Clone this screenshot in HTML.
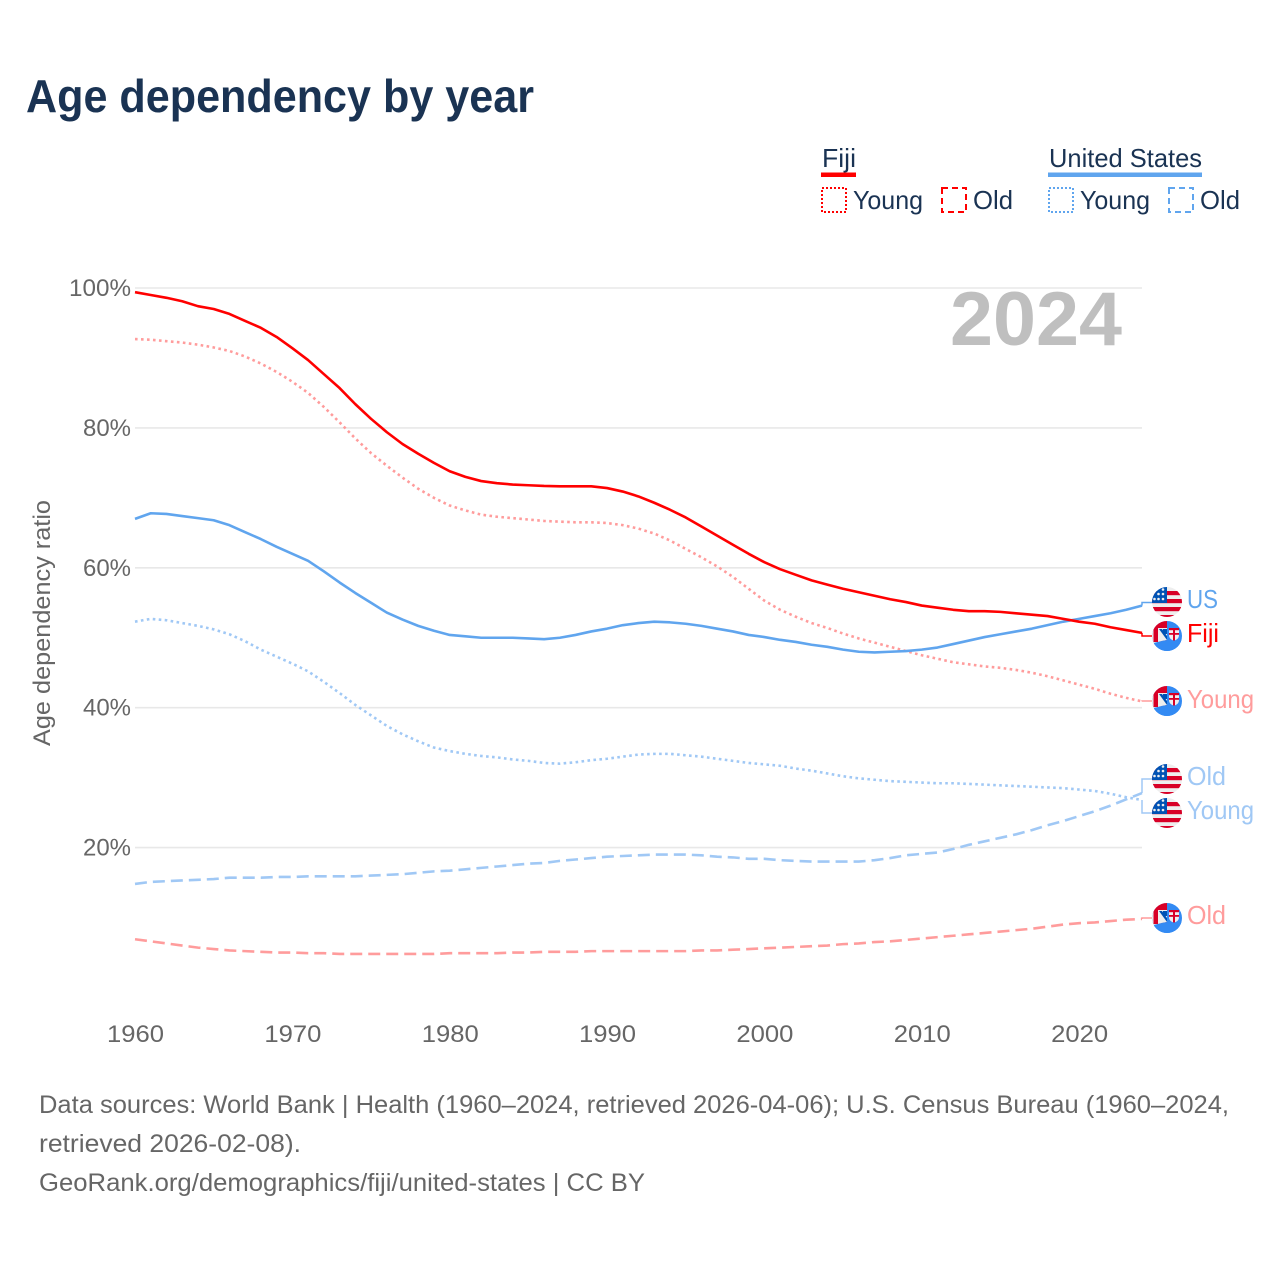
<!DOCTYPE html>
<html lang="en">
<head>
<meta charset="utf-8">
<title>Age dependency by year</title>
<style>
html,body{margin:0;padding:0;background:#fff;width:1280px;height:1280px;overflow:hidden}
svg{display:block;font-family:"Liberation Sans",sans-serif}
.tick{font-size:24px;fill:#666}
.legend{font-size:26px;fill:#1a3353}
.foot{font-size:25px;fill:#666}
.end{font-size:26px}
</style>
</head>
<body>
<svg id="chart" width="1280" height="1280" viewBox="0 0 1280 1280" xmlns="http://www.w3.org/2000/svg">
<defs>
<clipPath id="flag-clip"><circle cx="15" cy="15" r="15"/></clipPath>
<g id="flag-us" clip-path="url(#flag-clip)">
<rect width="30" height="30" fill="#eeeeee"/>
<rect y="4" width="30" height="4.2" fill="#d80027"/>
<rect y="12" width="30" height="4.2" fill="#d80027"/>
<rect y="20" width="30" height="4.2" fill="#d80027"/>
<rect y="28" width="30" height="2" fill="#d80027"/>
<rect width="15" height="16" fill="#0052b4"/>
<g fill="#eee">
<circle cx="11" cy="2.5" r="1.3"/><circle cx="6.5" cy="7" r="1.3"/><circle cx="11" cy="7" r="1.3"/>
<circle cx="2.5" cy="12" r="1.3"/><circle cx="6.5" cy="12" r="1.3"/><circle cx="11" cy="12" r="1.3"/>
</g>
</g>
<g id="flag-fj" clip-path="url(#flag-clip)">
<rect width="30" height="30" fill="#338af3"/>
<path d="M0 0 H15 V19 L1.5 22 H0Z" fill="#eeeeee"/>
<rect x="1.5" y="0" width="13.5" height="21" fill="#d80027"/>
<path d="M6 7 H15 V19 Q10 20 6 21Z" fill="#eeeeee"/>
<path d="M7 8 L15 19 V15 L10 8Z" fill="#0052b4"/>
<rect x="11" y="8" width="4" height="5" fill="#0052b4"/>
<path d="M0 23 Q8 20 15 19 H30 V30 H0Z" fill="#338af3"/>
<path d="M17 7 H27 V14 Q27 18.5 22 19.5 Q17 18.5 17 14Z" fill="#eeeeee"/>
<rect x="21" y="7" width="2" height="12.5" fill="#d80027"/>
<rect x="17" y="12" width="10" height="1.8" fill="#d80027"/>
<rect x="17" y="7" width="10" height="2.2" fill="#d80027"/>
</g>
</defs>

<text x="26" y="112" font-size="46" font-weight="700" fill="#1a3353" textLength="508" lengthAdjust="spacingAndGlyphs">Age dependency by year</text>

<g>
<text class="legend" x="822" y="167" textLength="34" lengthAdjust="spacingAndGlyphs">Fiji</text>
<rect x="821" y="172.5" width="35" height="4.5" fill="#ff0000"/>
<rect x="822" y="188" width="24" height="24" fill="none" stroke="#ff0000" stroke-width="2" stroke-dasharray="2 2"/>
<text class="legend" x="853" y="209" textLength="70" lengthAdjust="spacingAndGlyphs">Young</text>
<rect x="942" y="188" width="24" height="24" fill="none" stroke="#ff0000" stroke-width="2" stroke-dasharray="6 4"/>
<text class="legend" x="973" y="209" textLength="40" lengthAdjust="spacingAndGlyphs">Old</text>
<text class="legend" x="1049" y="167" textLength="153" lengthAdjust="spacingAndGlyphs">United States</text>
<rect x="1048" y="172.5" width="154" height="4.5" fill="#60a5ee"/>
<rect x="1049" y="188" width="24" height="24" fill="none" stroke="#60a5ee" stroke-width="2" stroke-dasharray="2 2"/>
<text class="legend" x="1080" y="209" textLength="70" lengthAdjust="spacingAndGlyphs">Young</text>
<rect x="1169" y="188" width="24" height="24" fill="none" stroke="#60a5ee" stroke-width="2" stroke-dasharray="6 4"/>
<text class="legend" x="1200" y="209" textLength="40" lengthAdjust="spacingAndGlyphs">Old</text>
</g>

<text transform="translate(50,746) rotate(-90)" font-size="24" fill="#666" textLength="246" lengthAdjust="spacingAndGlyphs">Age dependency ratio</text>

<g id="grid"></g>
<g id="yticks"></g>
<g id="xticks"></g>

<text x="950" y="345" font-size="76" font-weight="700" fill="#bfbfbf" textLength="172" lengthAdjust="spacingAndGlyphs">2024</text>

<g id="series"></g>

<g>
<use href="#flag-us" x="1152" y="587"/>
<text class="end" x="1187" y="608" fill="#60a5ee" textLength="31" lengthAdjust="spacingAndGlyphs">US</text>
<use href="#flag-fj" x="1152" y="621"/>
<text class="end" x="1187" y="642" fill="#ff0000" textLength="32" lengthAdjust="spacingAndGlyphs">Fiji</text>
<use href="#flag-fj" x="1152" y="686"/>
<text class="end" x="1187" y="708" fill="#ff9c9c" textLength="67" lengthAdjust="spacingAndGlyphs">Young</text>
<use href="#flag-us" x="1152" y="764"/>
<text class="end" x="1187" y="785" fill="#a0c8f5" textLength="39" lengthAdjust="spacingAndGlyphs">Old</text>
<use href="#flag-us" x="1152" y="798"/>
<text class="end" x="1187" y="819" fill="#a0c8f5" textLength="67" lengthAdjust="spacingAndGlyphs">Young</text>
<use href="#flag-fj" x="1152" y="903"/>
<text class="end" x="1187" y="924" fill="#ff9c9c" textLength="39" lengthAdjust="spacingAndGlyphs">Old</text>
</g>

<g>
<text class="foot" x="39" y="1113" textLength="1190" lengthAdjust="spacingAndGlyphs">Data sources: World Bank | Health (1960–2024, retrieved 2026-04-06); U.S. Census Bureau (1960–2024,</text>
<text class="foot" x="39" y="1152" textLength="262" lengthAdjust="spacingAndGlyphs">retrieved 2026-02-08).</text>
<text class="foot" x="39" y="1191" textLength="606" lengthAdjust="spacingAndGlyphs">GeoRank.org/demographics/fiji/united-states | CC BY</text>
</g>
</svg>

<script>
const firstYear = 1960;
const fijiTotal = [99.4,99.0,98.6,98.1,97.4,97.0,96.3,95.3,94.3,93.0,91.4,89.7,87.7,85.7,83.4,81.3,79.4,77.7,76.3,75.0,73.8,73.0,72.4,72.1,71.9,71.8,71.7,71.65,71.65,71.65,71.4,70.9,70.2,69.3,68.3,67.2,65.9,64.6,63.3,62.0,60.8,59.8,59.0,58.2,57.6,57.0,56.5,56.0,55.5,55.1,54.6,54.3,54.0,53.8,53.8,53.7,53.5,53.3,53.1,52.7,52.3,52.0,51.5,51.1,50.7];
const fijiYoung = [92.7,92.6,92.4,92.2,91.9,91.5,91.0,90.2,89.2,88.0,86.6,85.0,83.0,80.8,78.5,76.4,74.6,72.9,71.3,70.0,68.9,68.2,67.6,67.3,67.1,66.9,66.7,66.6,66.5,66.5,66.4,66.1,65.6,64.9,63.9,62.7,61.5,60.2,58.7,57.0,55.3,54.0,53.0,52.1,51.4,50.6,49.9,49.3,48.7,48.1,47.5,47.0,46.5,46.2,45.9,45.7,45.4,45.0,44.5,43.9,43.3,42.7,42.0,41.4,40.9];
const fijiOld = [6.9,6.6,6.3,6.0,5.7,5.5,5.3,5.2,5.1,5.0,5.0,4.9,4.9,4.8,4.8,4.8,4.8,4.8,4.8,4.8,4.9,4.9,4.9,4.9,5.0,5.0,5.1,5.1,5.1,5.2,5.2,5.2,5.2,5.2,5.2,5.2,5.3,5.3,5.4,5.5,5.6,5.7,5.8,5.9,6.0,6.2,6.3,6.5,6.6,6.8,7.0,7.2,7.4,7.6,7.8,8.0,8.2,8.4,8.7,9.0,9.2,9.3,9.5,9.7,9.8];
const usTotal = [67.0,67.8,67.7,67.4,67.1,66.8,66.1,65.1,64.1,63.0,62.0,61.0,59.5,57.9,56.4,55.0,53.6,52.6,51.7,51.0,50.4,50.2,50.0,50.0,50.0,49.9,49.8,50.0,50.4,50.9,51.3,51.8,52.1,52.3,52.2,52.0,51.7,51.3,50.9,50.4,50.1,49.7,49.4,49.0,48.7,48.3,48.0,47.9,48.0,48.1,48.3,48.6,49.1,49.6,50.1,50.5,50.9,51.3,51.8,52.3,52.7,53.1,53.5,54.0,54.6];
const usYoung = [52.3,52.7,52.5,52.1,51.7,51.2,50.5,49.5,48.3,47.3,46.3,45.2,43.7,42.1,40.4,38.9,37.4,36.2,35.2,34.3,33.8,33.4,33.1,32.9,32.6,32.4,32.1,32.0,32.2,32.5,32.7,33.0,33.3,33.4,33.4,33.2,33.0,32.7,32.4,32.1,31.9,31.7,31.3,31.0,30.6,30.2,29.9,29.7,29.5,29.4,29.3,29.2,29.2,29.1,29.0,28.9,28.8,28.7,28.6,28.5,28.3,28.1,27.7,27.2,26.8];
const usOld = [14.8,15.1,15.2,15.3,15.4,15.5,15.7,15.7,15.7,15.8,15.8,15.9,15.9,15.9,15.9,16.0,16.1,16.2,16.4,16.6,16.7,16.9,17.1,17.3,17.5,17.7,17.8,18.1,18.3,18.5,18.7,18.8,18.9,19.0,19.0,19.0,18.9,18.7,18.6,18.4,18.4,18.2,18.1,18.0,18.0,18.0,18.0,18.2,18.5,18.9,19.1,19.3,19.8,20.4,20.9,21.4,21.9,22.5,23.2,23.8,24.5,25.2,26.0,26.9,27.8];
const yTickValues = [20,40,60,80,100];
const xTickValues = [1960,1970,1980,1990,2000,2010,2020];

const NS = 'http://www.w3.org/2000/svg';
const xScale = function (year) { return 135 + (year - 1960) * (1142 - 135) / 64; };
const yScale = function (value) { return 987.5 - value * 6.995; };

function pathFrom(values) {
  return values.map(function (v, i) {
    return (i ? 'L' : 'M') + xScale(firstYear + i).toFixed(2) + ' ' + yScale(v).toFixed(2);
  }).join(' ');
}

const grid = document.getElementById('grid');
const yticks = document.getElementById('yticks');
yTickValues.forEach(function (v) {
  const line = document.createElementNS(NS, 'line');
  
  
  line.setAttribute('x1', 135);
  line.setAttribute('x2', 1142);
  line.setAttribute('y1', yScale(v));
  line.setAttribute('y2', yScale(v));
  line.setAttribute('stroke', '#e8e8e8');
  line.setAttribute('stroke-width', 1.6);
  grid.appendChild(line);
  const t = document.createElementNS(NS, 'text');
  
  
  t.setAttribute('class', 'tick');
  t.setAttribute('x', 131 - (v === 100 ? 62 : 48));
  t.setAttribute('y', yScale(v) + 8);
  t.setAttribute('textLength', v === 100 ? 62 : 48);
  t.setAttribute('lengthAdjust', 'spacingAndGlyphs');
  t.textContent = v + '%';
  yticks.appendChild(t);
});

const xticks = document.getElementById('xticks');
xTickValues.forEach(function (y) {
  const t = document.createElementNS(NS, 'text');
  
  
  t.setAttribute('class', 'tick');
  t.setAttribute('x', xScale(y) - 28);
  t.setAttribute('y', 1042);
  t.setAttribute('textLength', 57);
  t.setAttribute('lengthAdjust', 'spacingAndGlyphs');
  t.textContent = y;
  xticks.appendChild(t);
});

const seriesGroup = document.getElementById('series');
function drawSeries(name, values, color, dash, width) {
  const p = document.createElementNS(NS, 'path');
  
  
  p.setAttribute('d', pathFrom(values));
  p.setAttribute('fill', 'none');
  p.setAttribute('stroke', color);
  p.setAttribute('stroke-width', width);
  p.setAttribute('stroke-linejoin', 'round');
  if (dash) p.setAttribute('stroke-dasharray', dash);
  seriesGroup.appendChild(p);
}
function drawLeader(name, value, color, yEnd) {
  const p = document.createElementNS(NS, 'path');
  
  
  p.setAttribute('d', 'M1142 ' + yScale(value).toFixed(2) + ' L1142 ' + yEnd + ' L1152 ' + yEnd);
  p.setAttribute('fill', 'none');
  p.setAttribute('stroke', color);
  p.setAttribute('stroke-width', 1.5);
  seriesGroup.appendChild(p);
}
const last = function (a) { return a[a.length - 1]; };

drawSeries('line-fiji-old', fijiOld, '#ff9c9c', '12 6', 2.6);
drawSeries('line-us-old', usOld, '#a0c8f5', '12 6', 2.6);
drawSeries('line-us-young', usYoung, '#a0c8f5', '2.6 3.4', 2.6);
drawSeries('line-fiji-young', fijiYoung, '#ff9c9c', '2.6 3.4', 2.6);
drawSeries('line-us-total', usTotal, '#60a5ee', null, 2.6);
drawSeries('line-fiji-total', fijiTotal, '#ff0000', null, 2.6);
drawLeader('leader-us-total', last(usTotal), '#60a5ee', 602.5);
drawLeader('leader-fiji-total', last(fijiTotal), '#ff0000', 636);
drawLeader('leader-fiji-young', last(fijiYoung), '#ff9c9c', 701);
drawLeader('leader-us-old', last(usOld), '#a0c8f5', 779);
drawLeader('leader-us-young', last(usYoung), '#a0c8f5', 813);
drawLeader('leader-fiji-old', last(fijiOld), '#ff9c9c', 918);
</script>
</body>
</html>
